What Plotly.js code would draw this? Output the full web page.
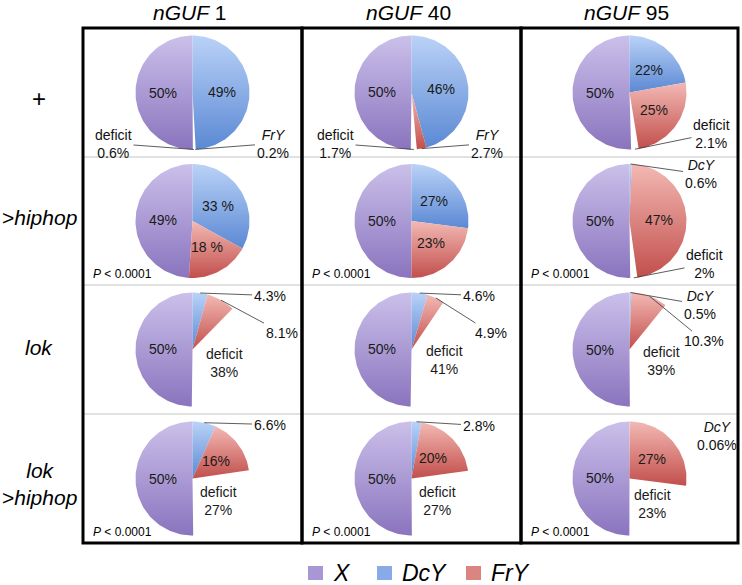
<!DOCTYPE html>
<html>
<head>
<meta charset="utf-8">
<script src="https://cdn.plot.ly/plotly-3.0.1.min.js"></script>
<style>html,body{margin:0;padding:0;background:#fff}#chart{width:742px;height:585px}</style>
</head>
<body>
<div id="chart"></div>
<script>
// column / row headings
var colNames = ["1", "40", "95"];
var rowNames = ["+", "&gt;<i>hiphop</i>", "<i>lok</i>", "<i>lok</i><br>&gt;<i>hiphop</i>"];

// percentages per cell [row][col]
var xPct   = [[50, 50, 50], [49, 50, 50], [50, 50, 50], [50, 50, 50]];
var dcyPct = [[49, 46, 22], [33, 27, 0.6], [4.3, 4.6, 0.5], [6.6, 2.8, 0.06]];
var fryPct = [[0.2, 2.7, 25], [18, 23, 47], [8.1, 4.9, 10.3], [16, 20, 27]];
var defPct = [[0.6, 1.7, 2.1], [0, 0, 2], [38, 41, 39], [27, 27, 23]];

// printed labels
var dcyText = [["49%", "46%", "22%"], ["33 %", "27%", "0.6%"], ["4.3%", "4.6%", "0.5%"], ["6.6%", "2.8%", "0.06%"]];
var fryText = [["0.2%", "2.7%", "25%"], ["18 %", "23%", "47%"], ["8.1%", "4.9%", "10.3%"], ["16%", "20%", "27%"]];
var pText = [null, "<i>P</i> &lt; 0.0001", null, "<i>P</i> &lt; 0.0001"];

// grid geometry (pixels)
var colX = [83, 302, 521, 738];
var rowY = [28, 157, 285, 414, 543];
var R = 57;

// [bottom, top] colours of each wedge's vertical gradient
var grad = {
  X:   ["#8a74be", "#cbc0ea"],
  DcY: ["#5b89d4", "#bad2f7"],
  FrY: ["#c24f4c", "#f3b9b4"]
};
var legendCol = {X: "#a897d4", DcY: "#88aae6", FrY: "#db8582"};

// labels drawn outside the pie, offset from centre
var callouts = [
  {r:0, c:0, k:"def", dx:-79, dy:51}, {r:0, c:0, k:"fry", dx:80, dy:51},
  {r:0, c:1, k:"def", dx:-76, dy:51}, {r:0, c:1, k:"fry", dx:75, dy:51},
  {r:0, c:2, k:"def", dx:82, dy:41},
  {r:1, c:2, k:"dcy", dx:71, dy:-47}, {r:1, c:2, k:"def", dx:75, dy:43},
  {r:2, c:0, k:"dcy", dx:77, dy:-54}, {r:2, c:0, k:"fry", dx:89, dy:-17},
  {r:2, c:1, k:"dcy", dx:67, dy:-54}, {r:2, c:1, k:"fry", dx:79, dy:-17},
  {r:2, c:2, k:"dcy", dx:70, dy:-45}, {r:2, c:2, k:"fry", dx:74, dy:-9},
  {r:3, c:0, k:"dcy", dx:77, dy:-54}, {r:3, c:1, k:"dcy", dx:67, dy:-53},
  {r:3, c:2, k:"dcy", dx:87, dy:-43, noArrow:true}
];

var FONT = "Liberation Sans, Arial, sans-serif";

function wedge(cx, cy, a0, a1) {
  var xs = [cx], ys = [cy];
  var n = Math.max(2, Math.ceil(Math.abs(a1 - a0) / 2));
  for (var i = 0; i <= n; i++) {
    var a = (a0 + (a1 - a0) * i / n) * Math.PI / 180;
    xs.push(cx + R * Math.sin(a)); ys.push(cy - R * Math.cos(a));
  }
  xs.push(cx); ys.push(cy);
  return {x: xs, y: ys};
}
function polar(cx, cy, a, rr) {
  var t = a * Math.PI / 180;
  return [cx + rr * Math.sin(t), cy - rr * Math.cos(t)];
}

var traces = [], annotations = [], shapes = [];

for (var r = 0; r < 4; r++) {
  for (var c = 0; c < 3; c++) {
    var cx = (colX[c] + colX[c + 1]) / 2, cy = (rowY[r] + rowY[r + 1]) / 2;
    var tot = xPct[r][c] + dcyPct[r][c] + fryPct[r][c] + defPct[r][c];
    var aX = xPct[r][c] / tot * 360, aD = dcyPct[r][c] / tot * 360;
    var aF = fryPct[r][c] / tot * 360, aE = defPct[r][c] / tot * 360;
    var sl = {
      x:   {a0: -aX, a1: 0, name: "X", txt: xPct[r][c] + "%"},
      dcy: {a0: 0, a1: aD, name: "DcY", txt: dcyText[r][c]},
      fry: {a0: aD, a1: aD + aF, name: "FrY", txt: fryText[r][c]},
      def: {a0: aD + aF, a1: aD + aF + aE, name: "deficit", txt: defPct[r][c] + "%"}
    };
    ["x", "dcy", "fry"].forEach(function(k) {
      var s = sl[k];
      if (s.a1 - s.a0 < 0.1) return;
      var w = wedge(cx, cy, s.a0, s.a1);
      traces.push({
        x: w.x, y: w.y, type: "scatter", mode: "lines", fill: "toself",
        line: {width: 0, color: "rgba(0,0,0,0)"},
        fillgradient: {type: "vertical", colorscale: [[0, grad[s.name][0]], [1, grad[s.name][1]]]},
        hoverinfo: "skip", showlegend: false
      });
    });
    var outside = {};
    callouts.forEach(function(o) {
      if (o.r !== r || o.c !== c) return;
      outside[o.k] = true;
      var s = sl[o.k];
      var head = o.k === "def" ? "deficit<br>" : (o.k === "dcy" ? "<i>DcY</i><br>" : "<i>FrY</i><br>");
      if (r === 2 && o.k !== "dcy" || (r >= 2 && c < 2)) head = "";
      if (r === 2 && c === 2 && o.k === "fry") head = "";
      var tip = polar(cx, cy, (s.a0 + s.a1) / 2, R);
      var ann = {
        text: head + s.txt, xref: "x", yref: "y", font: {family: FONT, size: 14, color: "#111"},
        align: "center"
      };
      if (o.noArrow) {
        ann.x = cx + o.dx; ann.y = cy + o.dy; ann.showarrow = false;
      } else {
        ann.x = tip[0]; ann.y = tip[1]; ann.showarrow = true; ann.axref = "x"; ann.ayref = "y";
        ann.ax = cx + o.dx; ann.ay = cy + o.dy; ann.arrowhead = 0; ann.arrowwidth = 0.8;
        ann.arrowcolor = "#333"; ann.standoff = 0;
      }
      annotations.push(ann);
    });
    ["x", "dcy", "fry", "def"].forEach(function(k) {
      var s = sl[k];
      if (outside[k] || s.a1 - s.a0 < 30) return;
      var frac = k === "def" ? 0.6 : 0.52;
      var p = polar(cx, cy, (s.a0 + s.a1) / 2, R * frac);
      annotations.push({
        text: (k === "def" ? "deficit<br>" : "") + s.txt, x: p[0], y: p[1], xref: "x", yref: "y",
        showarrow: false, font: {family: FONT, size: 14, color: "#1a1a1a"}
      });
    });
    if (pText[r]) {
      annotations.push({
        text: pText[r], x: colX[c] + 8, y: rowY[r + 1] - 11, xref: "x", yref: "y",
        xanchor: "left", showarrow: false, font: {family: FONT, size: 12, color: "#000"}
      });
    }
  }
}

// headings
colNames.forEach(function(n, c) {
  annotations.push({
    text: "<i>nGUF</i> " + n, x: (colX[c] + colX[c + 1]) / 2 - 3, y: 12, xref: "x", yref: "y",
    showarrow: false, font: {family: FONT, size: 21, color: "#000"}
  });
});
var rowLabY = [98, 217, 347, 484];
rowNames.forEach(function(n, r) {
  annotations.push({
    text: n, x: 39, y: rowLabY[r], xref: "x", yref: "y", showarrow: false,
    font: {family: FONT, size: r === 0 ? 24 : 21, color: "#000"}
  });
});

// grid: thin grey row lines, heavy column boxes
for (var i = 1; i < 4; i++) {
  shapes.push({type: "line", xref: "x", yref: "y", x0: colX[0], x1: colX[3], y0: rowY[i], y1: rowY[i],
    line: {color: "#c4c4c4", width: 1}, layer: "below"});
}
for (var j = 0; j < 3; j++) {
  shapes.push({type: "rect", xref: "x", yref: "y", x0: colX[j], x1: colX[j + 1], y0: rowY[0], y1: rowY[4],
    line: {color: "#000", width: 3}});
}

// legend
var legItems = [["X", "<i>X</i>", 308], ["DcY", "<i>DcY</i>", 377], ["FrY", "<i>FrY</i>", 466]];
legItems.forEach(function(it) {
  shapes.push({type: "rect", xref: "x", yref: "y", x0: it[2], x1: it[2] + 15, y0: 566, y1: 580,
    fillcolor: legendCol[it[0]], line: {width: 0}});
  annotations.push({text: it[1], x: it[2] + 23, y: 573, xref: "x", yref: "y", xanchor: "left",
    showarrow: false, font: {family: FONT, size: 23, color: "#000"}});
});

var layout = {
  width: 742, height: 585, margin: {l: 0, r: 0, t: 0, b: 0},
  paper_bgcolor: "#fff", plot_bgcolor: "#fff", showlegend: false,
  xaxis: {range: [0, 742], visible: false, fixedrange: true},
  yaxis: {range: [585, 0], visible: false, fixedrange: true},
  annotations: annotations, shapes: shapes
};

Plotly.newPlot("chart", traces, layout, {displayModeBar: false, staticPlot: true});
</script>
</body>
</html>
